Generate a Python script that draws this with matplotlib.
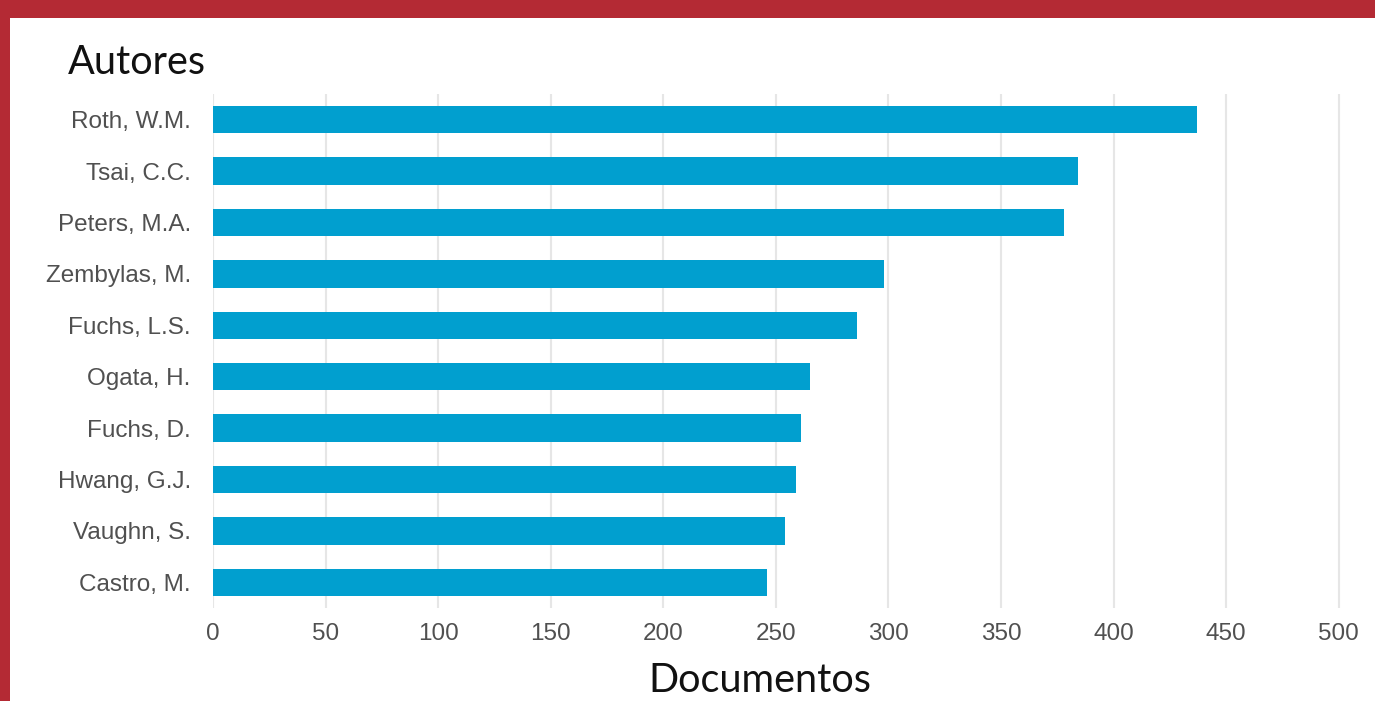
import matplotlib
matplotlib.use("Agg")
import matplotlib.pyplot as plt
from matplotlib.patches import Rectangle

# data
autores = ["Roth, W.M.", "Tsai, C.C.", "Peters, M.A.", "Zembylas, M.", "Fuchs, L.S.",
           "Ogata, H.", "Fuchs, D.", "Hwang, G.J.", "Vaughn, S.", "Castro, M."]
documentos = [437, 384, 378, 298, 286, 265, 261, 259, 254, 246]
xticks = [0, 50, 100, 150, 200, 250, 300, 350, 400, 450, 500]

fig = plt.figure(figsize=(13.75, 7.01), dpi=100)
fig.patch.set_facecolor("#B42A34")
# white panel inside the red border
fig.patches.append(Rectangle((10 / 1375, 0), 1, 1 - 18 / 701,
                             transform=fig.transFigure, facecolor="white",
                             edgecolor="none", zorder=-1))

ax = fig.add_axes([213 / 1375, 1 - 608 / 701, (1350 - 213) / 1375, (608 - 94) / 701])
ax.set_facecolor("white")

y = range(len(autores))
ax.barh(y, documentos, height=0.53, color="#019FCF", zorder=3)
ax.set_ylim(len(autores) - 0.5, -0.5)
ax.set_xlim(0, 505)
ax.set_yticks(list(y))
ax.set_yticklabels(autores, fontsize=17.5, color="#505050", family="Liberation Sans")
ax.set_xticks(xticks)
ax.set_xticklabels([str(t) for t in xticks], fontsize=17.5, color="#505050",
                   family="Liberation Sans")
ax.tick_params(axis="y", length=0, pad=16)
ax.tick_params(axis="x", length=0, pad=11)
ax.grid(axis="x", color="#E6E6E6", linewidth=1.5, zorder=0)
for s in ax.spines.values():
    s.set_visible(False)

fig.text(68 / 1375, 1 - 63 / 701, "Autores", fontsize=28.5, family="Lato",
         color="#111111", va="center", ha="left")
fig.text(760 / 1375, 1 - 680 / 701, "Documentos", fontsize=28.5, family="Lato",
         color="#111111", va="center", ha="center")

fig.savefig("out.png", dpi=100, facecolor=fig.get_facecolor())
